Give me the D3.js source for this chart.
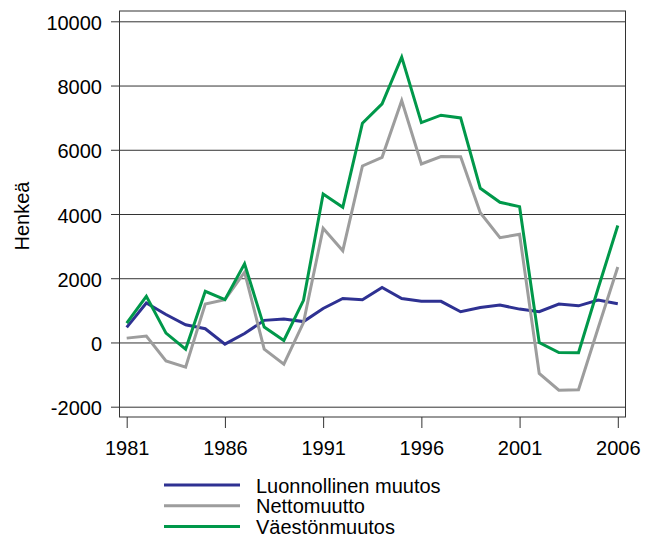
<!DOCTYPE html>
<html>
<head>
<meta charset="utf-8">
<title>Väestönmuutos</title>
<script src="https://cdn.jsdelivr.net/npm/d3@7"></script>
<style>
body { margin: 0; background: #fff; }
text { font-family: 'Liberation Sans', Arial, sans-serif; font-size: 20px; fill: #000; }
</style>
</head>
<body>
<svg id="chart" width="646" height="537"></svg>
<script>

var years = [1981, 1982, 1983, 1984, 1985, 1986, 1987, 1988, 1989, 1990,
	1991, 1992, 1993, 1994, 1995, 1996, 1997, 1998, 1999, 2000,
	2001, 2002, 2003, 2004, 2005, 2006];

var luonnollinen = [470, 1230, 870, 552, 427, -52, 280, 688, 729, 650,
	1060, 1371, 1330, 1714, 1371, 1280, 1280, 956, 1091, 1164,
	1039, 956, 1195, 1140, 1323, 1205];

var netto = [135, 198, -573, -771, 1198, 1334, 2188, -208, -677, 620,
	3553, 2857, 5496, 5766, 7533, 5558, 5787, 5780, 4042, 3262,
	3366, -966, -1486, -1470, 450, 2350];

var vaesto = [604, 1438, 292, -208, 1594, 1334, 2449, 479, 63, 1310,
	4624, 4208, 6826, 7429, 8883, 6847, 7076, 6990, 4800, 4364,
	4229, 0, -315, -318, 1690, 3640];

var seriesNames = ['Luonnollinen muutos', 'Nettomuutto', 'Väestönmuutos'];
var seriesColors = ['#2e3192', '#9d9d9d', '#00984a'];
var yTicks = [-2000, 0, 2000, 4000, 6000, 8000, 10000];
var xTicks = [1981, 1986, 1991, 1996, 2001, 2006];

var svg = d3.select('#chart');

// plot frame
var frameL = 119.5, frameR = 625.5, frameT = 11, frameB = 417;

var x = d3.scaleLinear().domain([1981, 2006]).range([126.7, 617.8]);
var y = d3.scaleLinear().domain([-2000, 10000]).range([406.7, 21.3]);

// y axis, ticks stretched across as grid lines (plain hyphen for negatives)
var yAxis = d3.axisLeft(y)
	.tickValues(yTicks)
	.tickFormat(function(d) { return String(d); })
	.tickSize(-(frameR - 111))
	.tickPadding(9);

var gy = svg.append('g')
	.attr('transform', 'translate(111,0)')
	.call(yAxis);
gy.select('.domain').remove();
gy.selectAll('line').attr('stroke', '#333').attr('stroke-width', 1);
gy.selectAll('text')
	.attr('dy', '0.4em')
	.style('font-size', '20px')
	.style('font-family', "'Liberation Sans', Arial, sans-serif")
	.attr('fill', '#000');

svg.append('rect')
	.attr('x', frameL)
	.attr('y', frameT)
	.attr('width', frameR - frameL)
	.attr('height', frameB - frameT)
	.attr('fill', 'none')
	.attr('stroke', '#333')
	.attr('stroke-width', 1);

// x axis
var xAxis = d3.axisBottom(x)
	.tickValues(xTicks)
	.tickFormat(function(d) { return String(d); })
	.tickSize(11)
	.tickPadding(12.7);

var gx = svg.append('g')
	.attr('transform', 'translate(0,' + frameB + ')')
	.call(xAxis);
gx.select('.domain').remove();
gx.selectAll('line').attr('stroke', '#333');
gx.selectAll('text')
	.style('font-size', '20px')
	.style('font-family', "'Liberation Sans', Arial, sans-serif")
	.attr('fill', '#000');

// y title
svg.append('text')
	.text('Henkeä')
	.attr('transform', 'translate(28.5,216) rotate(-90)')
	.attr('text-anchor', 'middle');

// lines
var allSeries = [luonnollinen, netto, vaesto];
var line = d3.line()
	.x(function(d, i) { return x(years[i]); })
	.y(function(d) { return y(d); });

allSeries.forEach(function(s, k) {
	svg.append('path')
		.datum(s)
		.attr('d', line)
		.attr('fill', 'none')
		.attr('stroke', seriesColors[k])
		.attr('stroke-width', 3)
		.attr('stroke-linejoin', 'miter');
});

// legend
var legendY = [485, 505.8, 526.6];
seriesNames.forEach(function(name, k) {
	svg.append('line')
		.attr('x1', 164)
		.attr('x2', 240)
		.attr('y1', legendY[k])
		.attr('y2', legendY[k])
		.attr('stroke', seriesColors[k])
		.attr('stroke-width', 3);
	svg.append('text')
		.text(name)
		.attr('x', 256)
		.attr('y', legendY[k] + 7.5);
});

</script>
</body>
</html>
